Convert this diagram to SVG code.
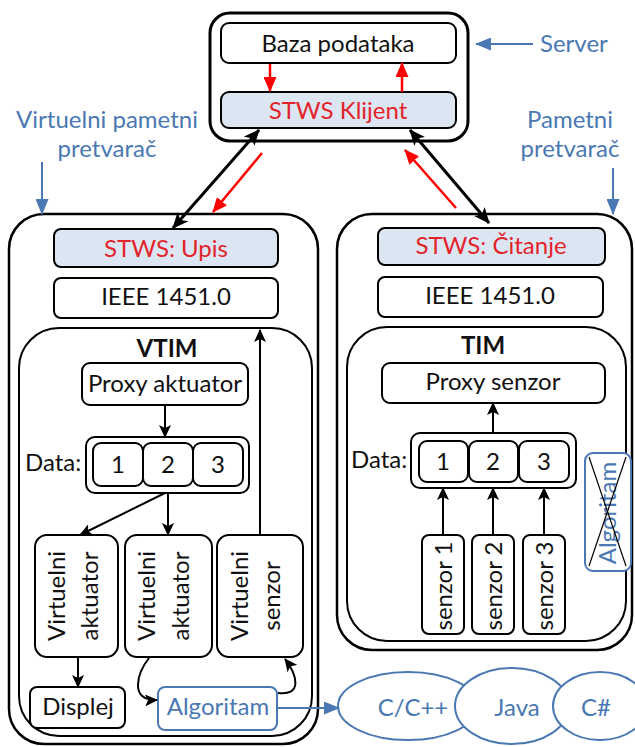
<svg xmlns="http://www.w3.org/2000/svg" width="635" height="747" viewBox="0 0 635 747">
<defs>
<style>
text{font-family:Lato,"Open Sans","DejaVu Sans",sans-serif;font-size:24px;fill:#111}
.c{text-anchor:middle}
.b{font-weight:bold}
.red{fill:#e3232b}
.blu{fill:#4a78b3}
.box{fill:#fff;stroke:#000;stroke-width:2}
.hl{fill:#dce6f2;stroke:#000;stroke-width:2}
.big{fill:#fff;stroke:#000;stroke-width:2.5}
.bbox{fill:#fff;stroke:#4a78b3;stroke-width:2}
.ln{fill:none;stroke:#000;stroke-width:2}
.thick{fill:none;stroke:#000;stroke-width:3}
.rl{fill:none;stroke:#f00;stroke-width:2.5}
.bl{fill:none;stroke:#4a78b3;stroke-width:2}
</style>
<marker id="ak" markerWidth="13" markerHeight="12" refX="12" refY="6" orient="auto-start-reverse" markerUnits="userSpaceOnUse"><path d="M0,0 L13,6 L0,12 L3,6 z" fill="#000"/></marker>
<marker id="akb" markerWidth="16" markerHeight="14" refX="15" refY="7" orient="auto-start-reverse" markerUnits="userSpaceOnUse"><path d="M0,0 L16,7 L0,14 L4,7 z" fill="#000"/></marker>
<marker id="ar" markerWidth="15" markerHeight="13" refX="14" refY="6.5" orient="auto" markerUnits="userSpaceOnUse"><path d="M0,0 L15,6.5 L0,13 z" fill="#f00"/></marker>
<marker id="ab" markerWidth="16" markerHeight="13" refX="15" refY="6.5" orient="auto" markerUnits="userSpaceOnUse"><path d="M0,0 L16,6.5 L0,13 z" fill="#4a78b3"/></marker>
</defs>
<rect width="635" height="747" fill="#fff"/>

<g id="server">
<rect x="210" y="13" width="258" height="128" rx="20" fill="#fff" stroke="#000" stroke-width="3"/>
</g>
<g id="baza">
<rect class="box" x="221" y="23" width="235" height="40" rx="8"/>
<text class="c" x="338" y="52">Baza podataka</text>
</g>
<g id="klijent">
<rect class="hl" x="221" y="92" width="235" height="36" rx="8"/>
<text class="c red" x="338" y="119">STWS Klijent</text>
</g>

<g id="label-server"><text class="blu" x="540" y="52">Server</text></g>
<g id="label-pametni"><text class="c blu" x="570" y="128">Pametni</text><text class="c blu" x="570" y="157">pretvarač</text></g>
<g id="label-virtuelni"><text class="c blu" x="107" y="128">Virtuelni pametni</text><text class="c blu" x="107" y="157">pretvarač</text></g>

<g id="virtuelni-pretvarac">
<rect class="big" x="9" y="214" width="309" height="530" rx="35"/>
</g>
<g id="upis">
<rect class="hl" x="54" y="229" width="224" height="38" rx="7"/>
<text class="c red" x="166" y="257">STWS: Upis</text>
</g>
<g id="ieee-left">
<rect class="box" x="54" y="278" width="224" height="40" rx="7"/>
<text class="c" x="166" y="305">IEEE 1451.0</text>
</g>
<g id="vtim">
<rect class="box" x="19" y="328" width="293" height="408" rx="40"/>
<text class="c b" x="167" y="357">VTIM</text>
</g>
<g id="proxy-aktuator">
<rect class="box" x="82" y="363" width="166" height="42" rx="8"/>
<text class="c" x="165" y="392">Proxy aktuator</text>
</g>
<g id="data-left">
<text x="25" y="471">Data:</text>
<rect class="box" x="86" y="437" width="163" height="56" rx="9"/>
<rect class="box" x="93" y="443" width="50" height="43" rx="8"/>
<rect class="box" x="143" y="443" width="50" height="43" rx="8"/>
<rect class="box" x="193" y="443" width="50" height="43" rx="8"/>
<text class="c" x="118" y="473">1</text>
<text class="c" x="168" y="473">2</text>
<text class="c" x="218" y="473">3</text>
</g>
<g id="virtuelni-aktuator-1">
<rect class="box" x="35" y="535" width="83" height="122" rx="12"/>
<text class="c" transform="translate(65,596) rotate(-90)">Virtuelni</text>
<text class="c" transform="translate(98,596) rotate(-90)">aktuator</text>
</g>
<g id="virtuelni-aktuator-2">
<rect class="box" x="125" y="535" width="87" height="122" rx="12"/>
<text class="c" transform="translate(155,596) rotate(-90)">Virtuelni</text>
<text class="c" transform="translate(189,596) rotate(-90)">aktuator</text>
</g>
<g id="virtuelni-senzor">
<rect class="box" x="217" y="535" width="86" height="122" rx="12"/>
<text class="c" transform="translate(248,596) rotate(-90)">Virtuelni</text>
<text class="c" transform="translate(280,596) rotate(-90)">senzor</text>
</g>
<g id="displej">
<rect class="box" x="30" y="687" width="95" height="41" rx="7"/>
<text class="c" x="78" y="715">Displej</text>
</g>
<g id="algoritam">
<rect class="bbox" x="158" y="687" width="119" height="43" rx="7"/>
<text class="c blu" x="218" y="715">Algoritam</text>
</g>

<g id="pametni-pretvarac">
<rect class="big" x="337" y="214" width="295" height="436" rx="35"/>
</g>
<g id="citanje">
<rect class="hl" x="378" y="228" width="227" height="37" rx="7"/>
<text class="c red" x="491" y="254">STWS: Čitanje</text>
</g>
<g id="ieee-right">
<rect class="box" x="378" y="277" width="225" height="40" rx="7"/>
<text class="c" x="490" y="304">IEEE 1451.0</text>
</g>
<g id="tim">
<rect class="box" x="347" y="327" width="279" height="314" rx="40"/>
<text class="c b" x="483" y="354">TIM</text>
</g>
<g id="proxy-senzor">
<rect class="box" x="382" y="363" width="223" height="40" rx="8"/>
<text class="c" x="493" y="390">Proxy senzor</text>
</g>
<g id="data-right">
<text x="351" y="468">Data:</text>
<rect class="box" x="411" y="433" width="165" height="55" rx="9"/>
<rect class="box" x="419" y="441" width="49" height="41" rx="8"/>
<rect class="box" x="469" y="441" width="49" height="41" rx="8"/>
<rect class="box" x="519" y="441" width="50" height="41" rx="8"/>
<text class="c" x="443" y="470">1</text>
<text class="c" x="493" y="470">2</text>
<text class="c" x="544" y="470">3</text>
</g>
<g id="senzor-1">
<rect class="box" x="422" y="535" width="42" height="99" rx="7"/>
<text class="c" transform="translate(452,586) rotate(-90)">senzor 1</text>
</g>
<g id="senzor-2">
<rect class="box" x="472" y="535" width="42" height="99" rx="7"/>
<text class="c" transform="translate(502,586) rotate(-90)">senzor 2</text>
</g>
<g id="senzor-3">
<rect class="box" x="523" y="535" width="42" height="99" rx="7"/>
<text class="c" transform="translate(553,586) rotate(-90)">senzor 3</text>
</g>
<g id="algoritam-crossed">
<rect class="bbox" x="585" y="453" width="46" height="118" rx="8"/>
<text class="c blu" transform="translate(616,513) rotate(-90)">Algoritam</text>
<line x1="589" y1="457" x2="626" y2="566" stroke="#000" stroke-width="1.2"/>
<line x1="626" y1="457" x2="589" y2="566" stroke="#000" stroke-width="1.2"/>
</g>

<g id="langs">
<ellipse cx="408" cy="706" rx="70" ry="34" fill="#fff" stroke="#4a78b3" stroke-width="2"/>
<ellipse cx="512" cy="706" rx="57" ry="38" fill="#fff" stroke="#4a78b3" stroke-width="2"/>
<ellipse cx="600" cy="706" rx="47" ry="34" fill="#fff" stroke="#4a78b3" stroke-width="2"/>
<text class="c blu" x="413" y="716">C/C++</text>
<text class="c blu" x="517" y="716">Java</text>
<text class="c blu" x="596" y="716">C#</text>
</g>

<g id="connectors">
<line class="rl" x1="270" y1="64" x2="270" y2="91" marker-end="url(#ar)"/>
<line class="rl" x1="402" y1="92" x2="402" y2="63" marker-end="url(#ar)"/>
<line class="thick" x1="259" y1="130" x2="173" y2="228" marker-start="url(#akb)" marker-end="url(#akb)"/>
<line class="thick" x1="410" y1="130" x2="489" y2="223" marker-start="url(#akb)" marker-end="url(#akb)"/>
<line class="rl" x1="262" y1="153" x2="213" y2="212" marker-end="url(#ar)"/>
<line class="rl" x1="456" y1="208" x2="405" y2="150" marker-end="url(#ar)"/>
<line class="bl" x1="533" y1="44" x2="476" y2="44" marker-end="url(#ab)"/>
<line class="bl" x1="42" y1="162" x2="42" y2="214" marker-end="url(#ab)"/>
<line class="bl" x1="613" y1="168" x2="613" y2="214" marker-end="url(#ab)"/>
<line class="bl" x1="277" y1="708" x2="339" y2="708" marker-end="url(#ab)"/>
<line class="ln" x1="165" y1="405" x2="165" y2="437" marker-end="url(#ak)"/>
<line class="ln" x1="165" y1="493" x2="80" y2="535" marker-end="url(#ak)"/>
<line class="ln" x1="168" y1="493" x2="168" y2="535" marker-end="url(#ak)"/>
<line class="ln" x1="260" y1="535" x2="260" y2="330" marker-end="url(#ak)"/>
<line class="ln" x1="78" y1="657" x2="78" y2="687" marker-end="url(#ak)"/>
<path class="ln" d="M149,658 C138,672 128,701 157,700" marker-end="url(#ak)"/>
<path class="ln" d="M278,693 C302,696 298,676 285,659" marker-end="url(#ak)"/>
<line class="ln" x1="493" y1="433" x2="493" y2="403" marker-end="url(#ak)"/>
<line class="ln" x1="443" y1="535" x2="443" y2="488" marker-end="url(#ak)"/>
<line class="ln" x1="493" y1="535" x2="493" y2="488" marker-end="url(#ak)"/>
<line class="ln" x1="544" y1="535" x2="544" y2="488" marker-end="url(#ak)"/>
</g>
</svg>
